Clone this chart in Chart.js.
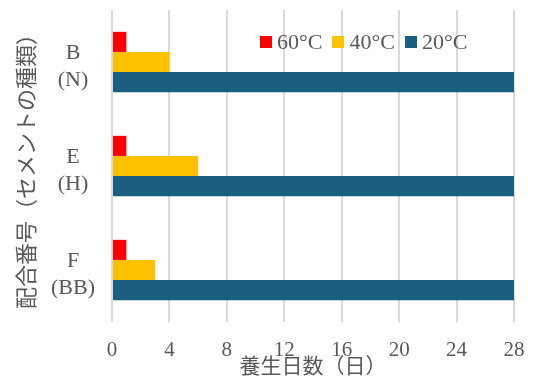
<!DOCTYPE html>
<html><head><meta charset="utf-8">
<script src="https://cdn.jsdelivr.net/npm/chart.js@4/dist/chart.umd.min.js"></script>
<style>
body{margin:0;background:#fff;}
#wrap{position:relative;width:533px;height:385px;}
#legend{position:absolute;left:260px;top:28px;display:flex;align-items:center;font-family:"Liberation Serif",serif;font-size:22px;color:#595959;line-height:27px;}
.item{display:flex;align-items:center;margin-right:10px;}
.box{width:12px;height:12px;margin-right:5px;}
</style></head><body>
<div id="wrap"><canvas id="c" width="533" height="385"></canvas><div id="legend"></div></div>
<script>
const categories = [["B","(N)"],["E","(H)"],["F","(BB)"]];
const seriesNames = ["60°C","40°C","20°C"];
const days60 = [1,1,1];
const days40 = [4,6,3];
const days20 = [28,28,28];
const xTicks = [0,4,8,12,16,20,24,28];
const seriesColors = ["#FF0000","#FFC000","#1A5E80"];
const xTitle = "養生日数（日）";
const yTitle = "配合番号（セメントの種類）";

const seriesValues = [days60, days40, days20];
const textColor = "#595959";

const chart = new Chart(document.getElementById('c'), {
  type: 'bar',
  data: {
    labels: categories,
    datasets: seriesNames.map((n,i)=>({
      label: n,
      data: seriesValues[i],
      backgroundColor: seriesColors[i],
      borderWidth: 0,
      categoryPercentage: 0.58,
      barPercentage: 1.0
    }))
  },
  options: {
    indexAxis: 'y',
    responsive: false,
    animation: false,
    layout: {padding: {top: 10, right: 19, bottom: 7, left: 0}},
    plugins: {legend: {display: false}, tooltip: {enabled: false}},
    scales: {
      x: {
        min: 0, max: 28,
        afterBuildTicks: s => { s.ticks = xTicks.map(v => ({value: v})); },
        afterFit: s => { s.height = 56; s.paddingLeft = 0; s.paddingRight = 0; },
        grid: {color: '#D9D9D9', lineWidth: 2, drawTicks: false},
        border: {display: false},
        ticks: {padding: 16, color: textColor, font: {family: '"Liberation Serif", serif', size: 21}, maxRotation: 0},
        title: {display: true, text: xTitle, color: textColor, padding: {top: 0, bottom: 0},
                font: {family: '"Noto Sans CJK JP", sans-serif', size: 21}}
      },
      y: {
        afterFit: s => { s.width = 112; s.paddingTop = 0; s.paddingBottom = 0; },
        grid: {display: false, drawTicks: false},
        border: {display: false},
        ticks: {padding: 17, crossAlign: 'center', labelOffset: 5, color: textColor,
                font: {family: '"Liberation Serif", serif', size: 22, lineHeight: 1.23}},
        title: {display: true, text: yTitle, color: textColor, padding: {top: 12, bottom: 0},
                font: {family: '"Noto Sans CJK JP", sans-serif', size: 22}}
      }
    }
  }
});

const lg = document.getElementById('legend');
seriesNames.forEach((n,i)=>{
  const it = document.createElement('div'); it.className='item';
  const b = document.createElement('span'); b.className='box'; b.style.background = seriesColors[i];
  const t = document.createElement('span'); t.textContent = n;
  it.appendChild(b); it.appendChild(t); lg.appendChild(it);
});
</script>
</body></html>
